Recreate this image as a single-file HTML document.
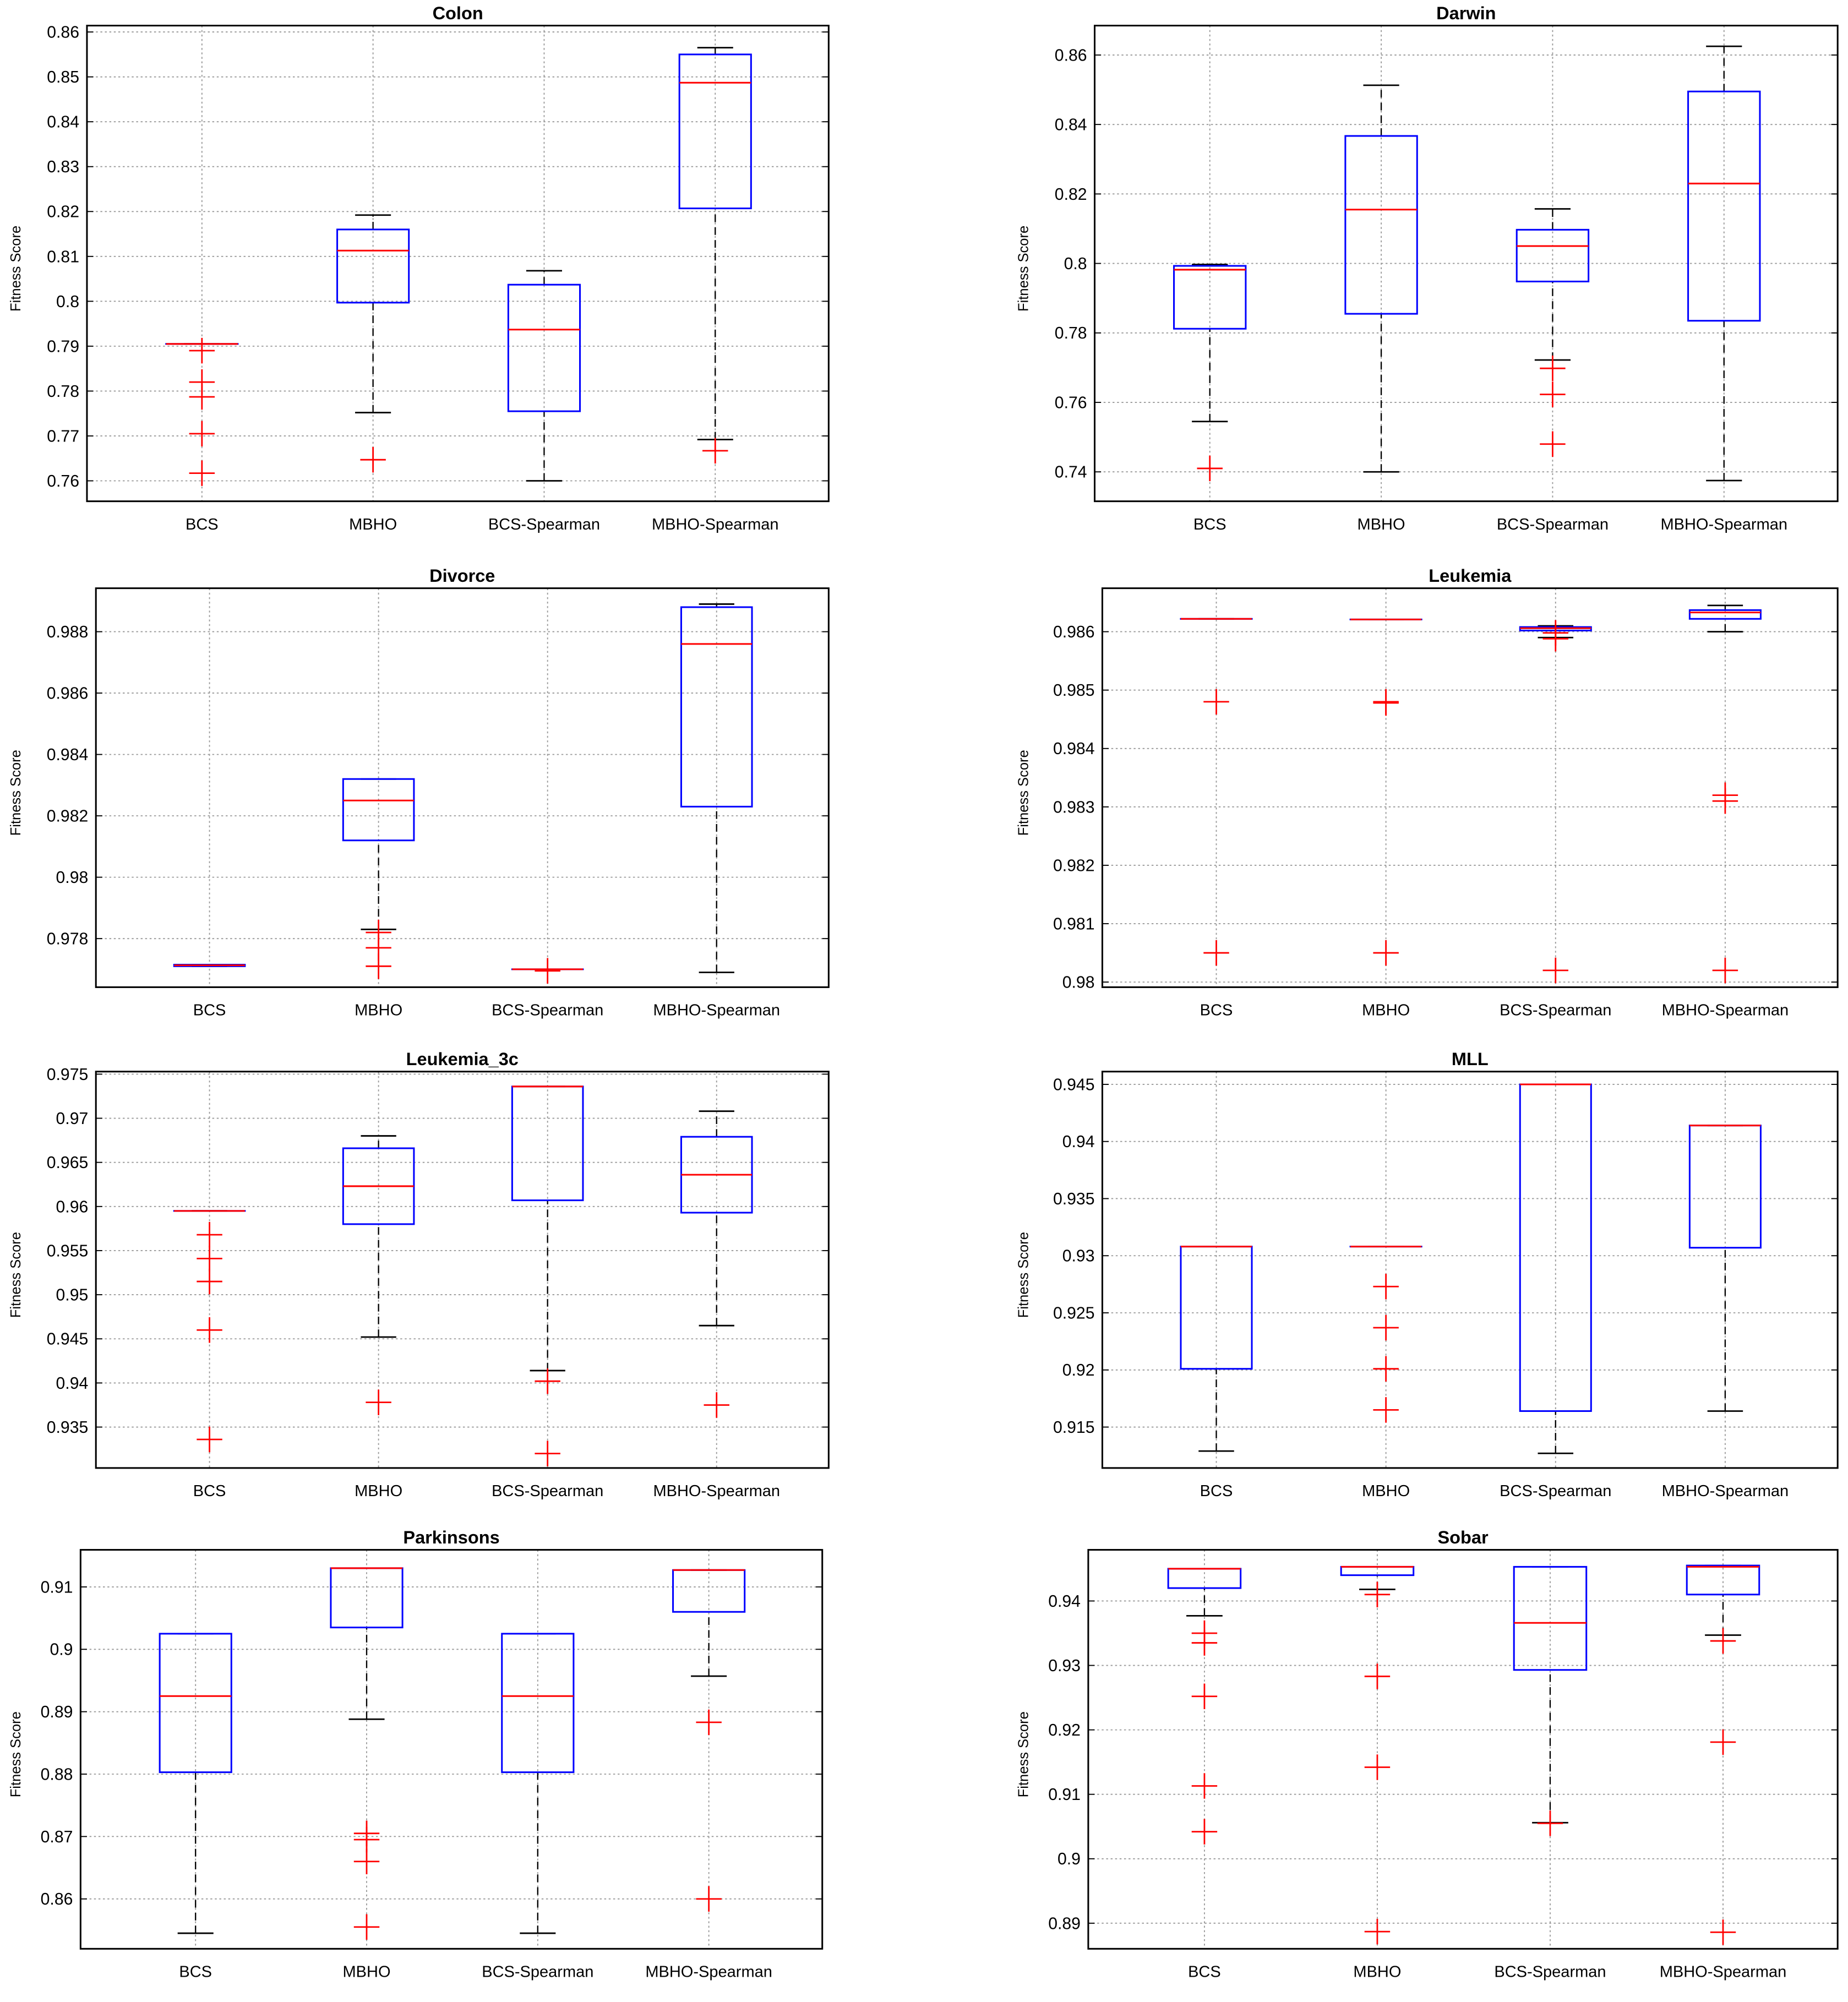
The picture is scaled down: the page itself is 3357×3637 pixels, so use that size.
<!DOCTYPE html>
<html><head><meta charset="utf-8"><style>
html,body{margin:0;padding:0;background:#fff}
svg{display:block}
text{font-family:"Liberation Sans",sans-serif}
</style></head><body>
<svg id="fig" xmlns="http://www.w3.org/2000/svg" width="3357" height="3637" viewBox="0 0 1445.1 1565.6"></svg>
<script>
const categories = ["BCS","MBHO","BCS-Spearman","MBHO-Spearman"];
// each box: [whiskerLow, q1, median, q3, whiskerHigh]
const colonBoxes = [[0.7905,0.7905,0.7905,0.7905,0.7905],[0.7752,0.7997,0.8113,0.816,0.8192],[0.76,0.7755,0.7937,0.8037,0.8068],[0.7692,0.8207,0.8487,0.855,0.8565]];
const colonOut = [[0.789,0.782,0.7787,0.7705,0.7617],[0.7647],[],[0.7667]];
const colonTicks = [0.76,0.77,0.78,0.79,0.8,0.81,0.82,0.83,0.84,0.85,0.86];
const darwinBoxes = [[0.7545,0.7812,0.7982,0.7993,0.7997],[0.74,0.7855,0.8155,0.8367,0.8513],[0.7722,0.7948,0.805,0.8097,0.8157],[0.7375,0.7835,0.823,0.8495,0.8625]];
const darwinOut = [[0.741],[],[0.7698,0.7623,0.748],[]];
const darwinTicks = [0.74,0.76,0.78,0.8,0.82,0.84,0.86];
const divorceBoxes = [[0.9771,0.9771,0.97713,0.97715,0.97715],[0.9783,0.9812,0.9825,0.9832,0.9832],[0.977,0.977,0.977,0.977,0.977],[0.9769,0.9823,0.9876,0.9888,0.9889]];
const divorceOut = [[],[0.9777,0.9771,0.9782],[0.97695],[]];
const divorceTicks = [0.978,0.98,0.982,0.984,0.986,0.988];
const leukBoxes = [[0.98622,0.98622,0.98622,0.98622,0.98622],[0.98621,0.98621,0.98621,0.98621,0.98621],[0.9859,0.98602,0.98606,0.98608,0.9861],[0.986,0.98622,0.98633,0.98637,0.98645]];
const leukOut = [[0.9848,0.9805],[0.9848,0.98478,0.9805],[0.98588,0.98598,0.9802],[0.9832,0.9831,0.9802]];
const leukTicks = [0.98,0.981,0.982,0.983,0.984,0.985,0.986];
const l3cBoxes = [[0.9595,0.9595,0.9595,0.9595,0.9595],[0.9452,0.958,0.9623,0.9666,0.968],[0.9414,0.9607,0.9736,0.9736,0.9736],[0.9465,0.9593,0.9636,0.9679,0.9708]];
const l3cOut = [[0.9568,0.9541,0.9515,0.946,0.9336],[0.9378],[0.9402,0.932],[0.9375]];
const l3cTicks = [0.935,0.94,0.945,0.95,0.955,0.96,0.965,0.97,0.975];
const mllBoxes = [[0.9129,0.9201,0.9308,0.9308,0.9308],[0.9308,0.9308,0.9308,0.9308,0.9308],[0.9127,0.9164,0.945,0.945,0.945],[0.9164,0.9307,0.9414,0.9414,0.9414]];
const mllOut = [[],[0.9273,0.9237,0.9201,0.9165],[],[]];
const mllTicks = [0.915,0.92,0.925,0.93,0.935,0.94,0.945];
const parkBoxes = [[0.8545,0.8803,0.8925,0.9025,0.9025],[0.8888,0.9035,0.913,0.913,0.913],[0.8545,0.8803,0.8925,0.9025,0.9025],[0.8957,0.906,0.9127,0.9127,0.9127]];
const parkOut = [[],[0.8705,0.8695,0.866,0.8555],[],[0.8883,0.86]];
const parkTicks = [0.86,0.87,0.88,0.89,0.9,0.91];
const sobarBoxes = [[0.9377,0.942,0.945,0.945,0.945],[0.9418,0.944,0.9453,0.9453,0.9453],[0.9056,0.9293,0.9366,0.9453,0.9453],[0.9347,0.941,0.9453,0.9455,0.9455]];
const sobarOut = [[0.935,0.9335,0.9252,0.9113,0.9042],[0.941,0.9283,0.9142,0.8887],[0.9055],[0.9338,0.9181,0.8886]];
const sobarTicks = [0.89,0.9,0.91,0.92,0.93,0.94];

const NS="http://www.w3.org/2000/svg";
const svg=document.getElementById('fig');
function mk(tag,attrs,parent){const e=document.createElementNS(NS,tag);for(const k in attrs)e.setAttribute(k,attrs[k]);(parent||svg).appendChild(e);return e;}

// layout: frame + y calibration (value->pixel pairs)
const panels=[
 {title:"Colon",box:[68,20,648,392],cal:[0.76,376,0.86,25],boxes:colonBoxes,out:colonOut,ticks:colonTicks,fmt:v=>String(+v.toFixed(2)),yl:12,key:"colon"},
 {title:"Darwin",box:[856,20,1437,392],cal:[0.74,369,0.86,43],boxes:darwinBoxes,out:darwinOut,ticks:darwinTicks,fmt:v=>String(+v.toFixed(2)),yl:800,key:"darwin"},
 {title:"Divorce",box:[75,460,648,772],cal:[0.978,734,0.988,494],boxes:divorceBoxes,out:divorceOut,ticks:divorceTicks,fmt:v=>String(+v.toFixed(3)),yl:12,key:"divorce"},
 {title:"Leukemia",box:[862,460,1437,772],cal:[0.98,768,0.986,494],boxes:leukBoxes,out:leukOut,ticks:leukTicks,fmt:v=>String(+v.toFixed(3)),yl:800,key:"leukemia"},
 {title:"Leukemia_3c",box:[75,838,648,1148],cal:[0.935,1116,0.975,840],boxes:l3cBoxes,out:l3cOut,ticks:l3cTicks,fmt:v=>String(+v.toFixed(3)),yl:12,key:"leukemia-3c"},
 {title:"MLL",box:[862,838,1437,1148],cal:[0.915,1116,0.945,848],boxes:mllBoxes,out:mllOut,ticks:mllTicks,fmt:v=>String(+v.toFixed(3)),yl:800,key:"mll"},
 {title:"Parkinsons",box:[63,1212,643,1524],cal:[0.86,1485,0.91,1241],boxes:parkBoxes,out:parkOut,ticks:parkTicks,fmt:v=>String(+v.toFixed(2)),yl:12,key:"parkinsons"},
 {title:"Sobar",box:[851,1212,1437,1524],cal:[0.89,1504,0.94,1252],boxes:sobarBoxes,out:sobarOut,ticks:sobarTicks,fmt:v=>String(+v.toFixed(2)),yl:800,key:"sobar"}
];

panels.forEach(p=>{
 const [x0,y0,x1,y1]=p.box;
 const g=mk('g',{});
 
 
 const Y=v=>p.cal[1]+(v-p.cal[0])*(p.cal[3]-p.cal[1])/(p.cal[2]-p.cal[0]);
 const A=0.328,B=4.663;
 const X=i=>x0+(i+1-A)/(B-A)*(x1-x0);
 // grid
 p.ticks.forEach(t=>{
  const yy=Y(t);
  const gl=mk('line',{x1:x0,x2:x1,y1:yy,y2:yy,stroke:'#999','stroke-width':0.8,'stroke-dasharray':'1.5,2'},g);
  
  
  mk('line',{x1:x0,x2:x0+5,y1:yy,y2:yy,stroke:'#000','stroke-width':0.8},g);
  mk('line',{x1:x1-5,x2:x1,y1:yy,y2:yy,stroke:'#000','stroke-width':0.8},g);
  const tl=mk('text',{x:x0-6,y:yy+4.5,'font-size':13,'text-anchor':'end',fill:'#000'},g);
  tl.textContent=p.fmt(t);
  
  
 });
 categories.forEach((c,i)=>{
  const xx=X(i);
  const vl=mk('line',{x1:xx,x2:xx,y1:y0,y2:y1,stroke:'#999','stroke-width':0.8,'stroke-dasharray':'1.5,2'},g);
  
  
  const cl=mk('text',{x:xx,y:y1+22,'font-size':12.5,'text-anchor':'middle',fill:'#000'},g);
  cl.textContent=c;
  
  
 });
 const fr=mk('rect',{x:x0,y:y0,width:x1-x0,height:y1-y0,fill:'none',stroke:'#000','stroke-width':1.3},g);
 
 
 const tt=mk('text',{x:(x0+x1)/2,y:y0-5,'font-size':14,'font-weight':'bold','text-anchor':'middle',fill:'#000'},g);
 tt.textContent=p.title;
 
 
 const cy=(y0+y1)/2;
 const yt=mk('text',{x:p.yl,y:cy,'font-size':11,'text-anchor':'middle',fill:'#000',transform:`rotate(-90 ${p.yl+4} ${cy})`},g);
 yt.textContent='Fitness Score';
 
 
 // boxes
 const bw=(x1-x0)*0.0966, cw=bw/2;
 p.boxes.forEach((b,i)=>{
  const xx=X(i);
  const bg=mk('g',{},g);
  
  
  mk('line',{x1:xx,x2:xx,y1:Y(b[0]),y2:Y(b[1]),stroke:'#000','stroke-width':1,'stroke-dasharray':'6,4'},bg);
  mk('line',{x1:xx,x2:xx,y1:Y(b[3]),y2:Y(b[4]),stroke:'#000','stroke-width':1,'stroke-dasharray':'6,4'},bg);
  mk('line',{x1:xx-cw/2,x2:xx+cw/2,y1:Y(b[0]),y2:Y(b[0]),stroke:'#000','stroke-width':1.2},bg);
  mk('line',{x1:xx-cw/2,x2:xx+cw/2,y1:Y(b[4]),y2:Y(b[4]),stroke:'#000','stroke-width':1.2},bg);
  mk('rect',{x:xx-bw/2,y:Y(b[3]),width:bw,height:Math.max(0.01,Y(b[1])-Y(b[3])),fill:'none',stroke:'#0000ff','stroke-width':1.3},bg);
  mk('line',{x1:xx-bw/2,x2:xx+bw/2,y1:Y(b[2]),y2:Y(b[2]),stroke:'#ff0000','stroke-width':1.3},bg);
  p.out[i].forEach(o=>{
   const oy=Y(o);
   const og=mk('g',{},bg);
   
   
   mk('line',{x1:xx-10,x2:xx+10,y1:oy,y2:oy,stroke:'#ff0000','stroke-width':1.2},og);
   mk('line',{x1:xx,x2:xx,y1:oy-10,y2:oy+10,stroke:'#ff0000','stroke-width':1.2},og);
  });
 });
});
</script>
</body></html>
